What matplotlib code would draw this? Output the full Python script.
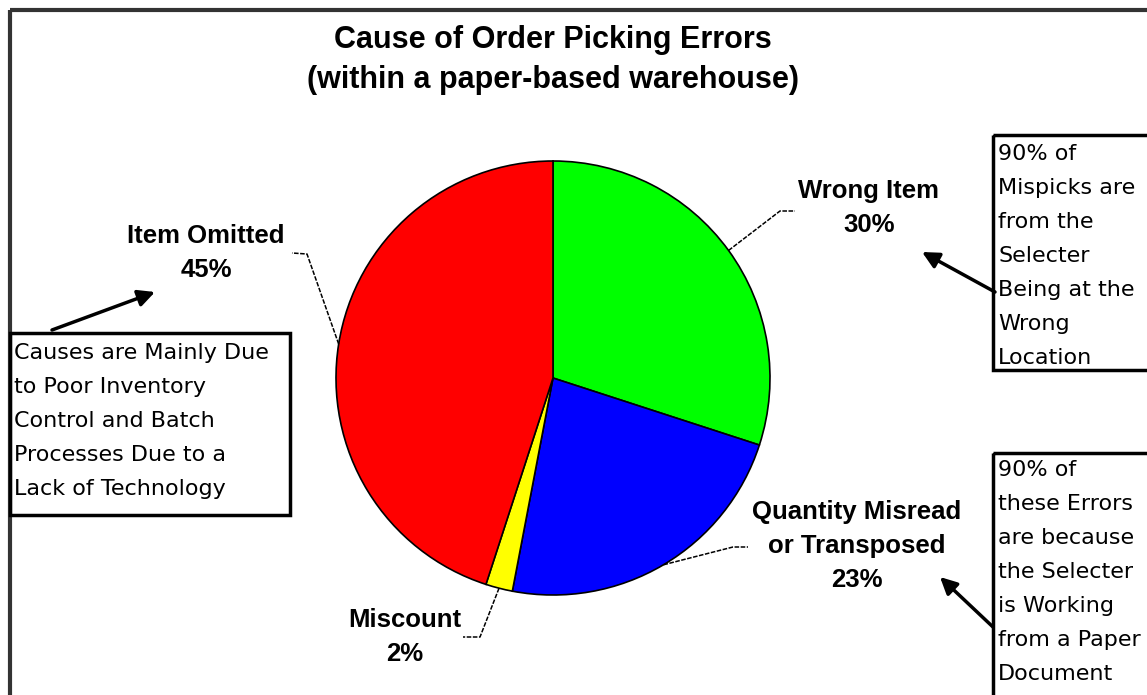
import numpy as np
import matplotlib
matplotlib.use("Agg")
import matplotlib.pyplot as plt
from matplotlib.patches import Rectangle

plt.rcParams['font.family'] = ['Liberation Sans', 'DejaVu Sans']

# data
categories = ['Wrong Item', 'Quantity Misread\nor Transposed', 'Miscount', 'Item Omitted']
shares = [30, 23, 2, 45]
colors = ['#00FF00', '#0000FF', '#FFFF00', '#FF0000']

title = 'Cause of Order Picking Errors\n(within a paper-based warehouse)'
note_left = 'Causes are Mainly Due\nto Poor Inventory\nControl and Batch\nProcesses Due to a\nLack of Technology'
note_top = '90% of\nMispicks are\nfrom the\nSelecter\nBeing at the\nWrong\nLocation'
note_bottom = '90% of\nthese Errors\nare because\nthe Selecter\nis Working\nfrom a Paper\nDocument'

# layout (pixel coords, y down)
W, H = 1147, 695
cx, cy, r = 553, 378, 217
label_pos = [(869, 208), (857, 546), (405, 637), (206, 253)]
elbow = [[(780, 211), (795, 211)],
         [(733, 547), (748, 547)],
         [(480, 637), (463, 637)],
         [(307, 254), (292, 253)]]

fig = plt.figure(figsize=(W / 100, H / 100), dpi=100)
ax = fig.add_axes([0, 0, 1, 1])

wedges, _ = ax.pie(shares, colors=colors, center=(cx, cy), radius=r,
                   startangle=-90, counterclock=True,
                   wedgeprops=dict(edgecolor='black', linewidth=1.2))
ax.set_xlim(0, W)
ax.set_ylim(H, 0)
ax.set_aspect('equal')
ax.axis('off')

# outer chart frame (runs off the image to the right and bottom)
ax.add_patch(Rectangle((10, 10), W + 20, H + 20, fill=False,
                       edgecolor='#333333', linewidth=3))

ax.text(cx, 60, title, ha='center', va='center', fontsize=22,
        fontweight='bold', linespacing=1.45)

for w, cat, share, pos, pts in zip(wedges, categories, shares, label_pos, elbow):
    mid = np.deg2rad((w.theta1 + w.theta2) / 2)
    sx, sy = cx + r * np.cos(mid), cy + r * np.sin(mid)
    xs = [sx] + [p[0] for p in pts]
    ys = [sy] + [p[1] for p in pts]
    ax.plot(xs, ys, color='black', linewidth=1.1, linestyle=(0, (3, 1)))
    ax.text(pos[0], pos[1], f'{cat}\n{share}%', ha='center', va='center',
            fontsize=18.5, fontweight='bold', linespacing=1.52)

box_kw = dict(fontsize=16, ha='left', va='center', linespacing=1.87,
              family=['DejaVu Sans'])
ax.add_patch(Rectangle((10, 333), 280, 182, fill=False, edgecolor='black', linewidth=2.5))
ax.text(14, 421, note_left, **box_kw)
ax.add_patch(Rectangle((993, 135), 200, 235, fill=False, edgecolor='black', linewidth=2.5))
ax.text(998, 256, note_top, **box_kw)
ax.add_patch(Rectangle((993, 453), 200, 260, fill=False, edgecolor='black', linewidth=2.5))
ax.text(998, 572, note_bottom, **box_kw)

arrows = [((52, 330), (155, 292)), ((995, 292), (922, 252)), ((993, 627), (940, 577))]
for tail, head in arrows:
    ax.annotate('', xy=head, xytext=tail,
                arrowprops=dict(arrowstyle='-|>,head_length=1.0,head_width=0.5',
                                color='black', linewidth=2.5, shrinkA=0, shrinkB=0))

fig.savefig('out.png', dpi=100)
